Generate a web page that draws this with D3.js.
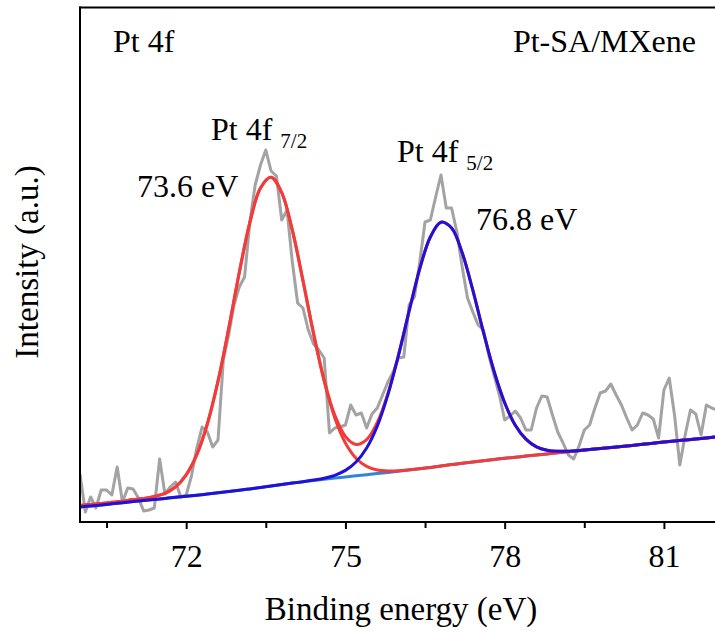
<!DOCTYPE html>
<html>
<head>
<meta charset="utf-8">
<script src="https://cdn.jsdelivr.net/npm/d3@7"></script>
<style>
  html, body { margin: 0; padding: 0; background: #fff; }
  svg { display: block; }
</style>
</head>
<body>
<svg id="chart" width="715" height="634"></svg>
<script>
// ---------- DATA ----------
// Raw Pt 4f spectrum: binding energy (eV) and intensity (a.u.)
const rawEnergy = [
  70.0,70.1,70.2,70.3,70.4,70.5,70.6,70.7,70.8,70.9,
  71.0,71.1,71.2,71.3,71.4,71.5,71.6,71.7,71.8,71.9,
  72.0,72.1,72.2,72.3,72.4,72.5,72.6,72.7,72.8,72.9,
  73.0,73.1,73.2,73.3,73.4,73.5,73.6,73.7,73.8,73.9,
  74.0,74.1,74.2,74.3,74.4,74.5,74.6,74.7,74.8,74.9,
  75.0,75.1,75.2,75.3,75.4,75.5,75.6,75.7,75.8,75.9,
  76.0,76.1,76.2,76.3,76.4,76.5,76.6,76.7,76.8,76.9,
  77.0,77.1,77.2,77.3,77.4,77.5,77.6,77.7,77.8,77.9,
  78.0,78.1,78.2,78.3,78.4,78.5,78.6,78.7,78.8,78.9,
  79.0,79.1,79.2,79.3,79.4,79.5,79.6,79.7,79.8,79.9,
  80.0,80.1,80.2,80.3,80.4,80.5,80.6,80.7,80.8,80.9,
  81.0,81.1,81.2,81.3,81.4,81.5,81.6,81.7,81.8,81.9,
  82.0
];
const rawIntensity = [
  48,10,25,14,32,32,27,55,20,34,
  33,24,11,12,14,63,28,35,40,25,
  27,46,74,95,90,75,82,162,187,217,
  235,245,300,337,357,372,351,346,302,312,
  260,219,214,192,178,172,164,89,94,95,
  97,117,107,109,94,108,114,127,140,150,
  164,165,217,225,260,300,302,325,347,314,
  314,290,255,224,210,197,192,167,147,127,
  102,106,111,104,92,92,114,126,125,107,
  90,79,67,63,76,92,97,114,129,131,
  138,127,117,104,92,97,109,107,103,84,
  132,144,107,57,87,112,108,87,117,114,
  112
];

// Fitted curves, sampled every 0.2 eV
const fitEnergy = [
  70.0,70.2,70.4,70.6,70.8,71.0,71.2,71.4,71.6,71.8,
  72.0,72.2,72.4,72.6,72.8,73.0,73.2,73.4,73.6,73.8,
  74.0,74.2,74.4,74.6,74.8,75.0,75.2,75.4,75.6,75.8,
  76.0,76.2,76.4,76.6,76.8,77.0,77.2,77.4,77.6,77.8,
  78.0,78.2,78.4,78.6,78.8,79.0,79.2,79.4,79.6,79.8,
  80.0,80.2,80.4,80.6,80.8,81.0,81.2,81.4,81.6,81.8,
  82.0
];
const background = [
  15.0,16.1,17.1,18.2,19.3,20.4,21.4,22.5,23.6,24.7,
  25.7,26.8,28.0,29.2,30.4,31.7,33.1,34.5,36.0,37.5,
  38.9,40.2,41.5,42.7,43.9,45.1,46.2,47.3,48.4,49.6,
  50.8,52.0,53.3,54.6,56.0,57.4,58.8,60.1,61.3,62.5,
  63.7,64.8,65.9,67.0,68.1,69.2,70.2,71.3,72.4,73.4,
  74.5,75.6,76.6,77.7,78.8,79.9,80.9,82.0,83.1,84.1,
  85.2
];
// Pt 4f7/2 component (above background)
const peak72 = [
  1.5,1.5,1.5,1.5,1.5,2,2,3,5,10.4,
  21.5,40.6,70.3,111.7,162.8,217.5,266.5,299.5,308.7,291.8,
  253.0,201.2,146.7,98.1,60.2,33.9,17.5,8.3,3.6,1.4,
  0.5,0.2,0,0,0,0,0,0,0,0,
  0,0,0,0,0,0,0,0,0,0,
  0,0,0,0,0,0,0,0,0,0,
  0
];
// Pt 4f5/2 component (above background)
const peak52 = [
  0,0,0,0,0,0,0,0,0,0,
  0,0,0,0,0,0,0,0,0,0,
  0,0.1,0.4,1.1,2.8,6.5,13.8,26.7,47.5,77.5,
  115.9,158.8,199.8,230.4,243.8,236.5,210.4,171.7,128.5,88.2,
  55.5,32.0,17.0,8.2,3.7,1.5,0.6,0.2,0,0,
  0,0,0,0,0,0,0,0,0,0,
  0
];

const majorTicks = [72, 75, 78, 81];
const minorTicks = [70.5, 73.5, 76.5, 79.5];

// ---------- CHART ----------
(function () {
const FONT = "'Liberation Serif', 'DejaVu Serif', 'Times New Roman', serif";
const svg = d3.select("#chart");
const mL = 80, mR = 717, mT = 7.5, mB = 522;

const x = d3.scaleLinear().domain([70, 82]).range([mL, mR]);
const y = d3.scaleLinear().domain([0, 514.5]).range([mB, mT]);

svg.append("defs").append("clipPath").attr("id", "plotclip")
  .append("rect").attr("x", mL).attr("y", mT)
  .attr("width", mR - mL).attr("height", mB - mT);

const plot = svg.append("g").attr("clip-path", "url(#plotclip)");

const raw = rawEnergy.map((e, i) => ({e, v: rawIntensity[i]}));
const bg = fitEnergy.map((e, i) => ({e, v: background[i]}));
const comp1 = fitEnergy.map((e, i) => ({e, v: background[i] + peak72[i]}));
const comp2 = fitEnergy.map((e, i) => ({e, v: background[i] + peak52[i]}));
const envelope = fitEnergy.map((e, i) => ({e, v: background[i] + peak72[i] + peak52[i]}));

const rawLine = d3.line().x(d => x(d.e)).y(d => y(d.v));
const fitLine = d3.line().x(d => x(d.e)).y(d => y(d.v)).curve(d3.curveCatmullRom.alpha(0.5));

plot.append("path").datum(raw).attr("d", rawLine)
  .attr("fill", "none").attr("stroke", "#a3a3a3").attr("stroke-width", 3)
  .attr("stroke-linejoin", "round");

plot.append("path").datum(bg).attr("d", fitLine)
  .attr("fill", "none").attr("stroke", "#2f86d8").attr("stroke-width", 3);

plot.append("path").datum(envelope).attr("d", fitLine)
  .attr("fill", "none").attr("stroke", "#f23c3c").attr("stroke-width", 3);

plot.append("path").datum(comp1).attr("d", fitLine)
  .attr("fill", "none").attr("stroke", "#f23c3c").attr("stroke-width", 3);

plot.append("path").datum(comp2).attr("d", fitLine)
  .attr("fill", "none").attr("stroke", "#2210d6").attr("stroke-width", 3);

// frame
svg.append("line").attr("x1", mL).attr("x2", mL).attr("y1", mT - 1).attr("y2", mB)
  .attr("stroke", "#000").attr("stroke-width", 2);
svg.append("line").attr("x1", mL - 1).attr("x2", mR).attr("y1", mT).attr("y2", mT)
  .attr("stroke", "#000").attr("stroke-width", 2);
svg.append("line").attr("x1", mR).attr("x2", mR).attr("y1", mT).attr("y2", mB)
  .attr("stroke", "#000").attr("stroke-width", 2);

// bottom axis
const xAxis = svg.append("g").attr("transform", `translate(0,${mB})`)
  .call(d3.axisBottom(x).tickValues(majorTicks).tickSize(7).tickSizeOuter(0)
    .tickFormat(d3.format("d")));
xAxis.attr("font-family", FONT).attr("font-size", 32);
xAxis.select(".domain").attr("stroke-width", 2).attr("d", `M${mL - 1},0H${mR}`);
xAxis.selectAll(".tick line").attr("stroke-width", 2);
xAxis.selectAll(".tick text").attr("y", 45).attr("dy", 0)
  .attr("font-family", FONT).attr("font-size", 32).attr("fill", "#000");

const xMinor = svg.append("g").attr("transform", `translate(0,${mB})`)
  .call(d3.axisBottom(x).tickValues(minorTicks).tickSize(6).tickSizeOuter(0).tickFormat(""));
xMinor.select(".domain").remove();
xMinor.selectAll(".tick line").attr("stroke-width", 2);

function txt(xp, yp, size, str, anchor) {
  return svg.append("text").attr("x", xp).attr("y", yp)
    .attr("font-family", FONT).attr("font-size", size)
    .attr("text-anchor", anchor || "start").attr("fill", "#000").text(str);
}

// axis titles
txt(401, 620, 33, "Binding energy (eV)", "middle");
svg.append("text").attr("transform", "translate(38,262) rotate(-90)")
  .attr("font-family", FONT).attr("font-size", 33)
  .attr("text-anchor", "middle").attr("fill", "#000").text("Intensity (a.u.)");

// annotations
txt(113, 52, 32, "Pt 4f");
txt(696, 52, 32, "Pt-SA/MXene", "end");

const lab1 = txt(211, 140, 32, "Pt 4f ");
lab1.append("tspan").attr("dy", 8).attr("font-size", 21).text("7/2");

txt(137, 197, 32, "73.6 eV");

const lab2 = txt(397, 162, 32, "Pt 4f ");
lab2.append("tspan").attr("dy", 8).attr("font-size", 21).text("5/2");

txt(476, 230, 32, "76.8 eV");
})();
</script>
</body>
</html>
